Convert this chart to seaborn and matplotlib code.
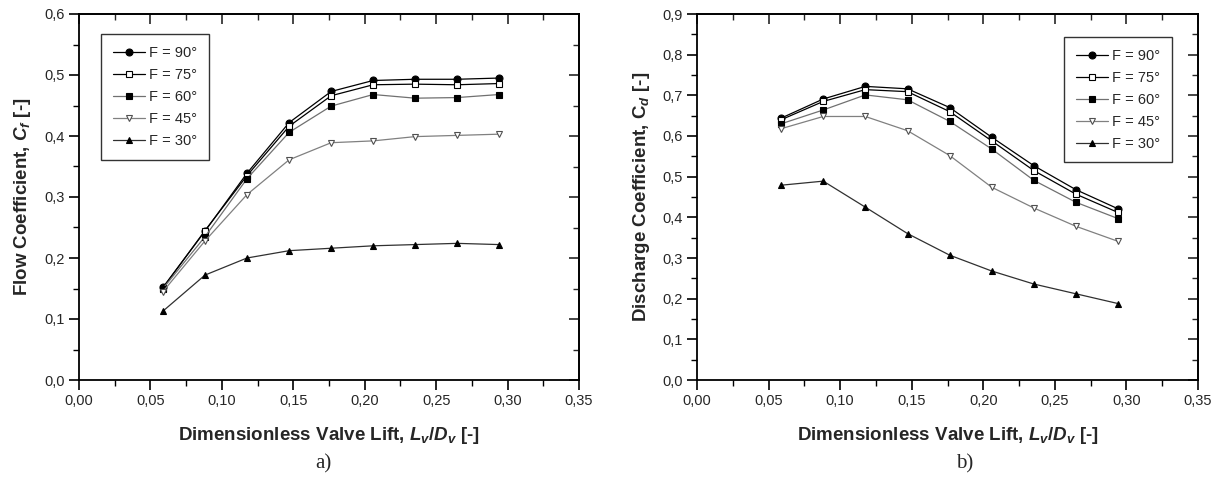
"""
Flow and discharge coefficient vs dimensionless valve lift
"""

import matplotlib
matplotlib.use('Agg')
import numpy as np
import pandas as pd
import seaborn as sns
import matplotlib.pyplot as plt
from matplotlib.ticker import MultipleLocator, FuncFormatter

# data
LIFT = [0.0588, 0.0882, 0.1176, 0.1471, 0.1765, 0.2059, 0.2353, 0.2647, 0.2941]
ANGLES = ['F = 90°', 'F = 75°', 'F = 60°', 'F = 45°', 'F = 30°']

CF_90 = [0.152, 0.244, 0.339, 0.422, 0.473, 0.491, 0.493, 0.493, 0.495]
CF_75 = [0.151, 0.245, 0.335, 0.416, 0.466, 0.484, 0.485, 0.484, 0.486]
CF_60 = [0.150, 0.235, 0.330, 0.406, 0.449, 0.468, 0.462, 0.463, 0.468]
CF_45 = [0.145, 0.228, 0.304, 0.361, 0.389, 0.392, 0.399, 0.401, 0.403]
CF_30 = [0.113, 0.172, 0.200, 0.212, 0.216, 0.220, 0.222, 0.224, 0.222]

CD_90 = [0.644, 0.691, 0.722, 0.716, 0.670, 0.597, 0.527, 0.468, 0.421]
CD_75 = [0.640, 0.685, 0.714, 0.709, 0.660, 0.588, 0.515, 0.457, 0.412]
CD_60 = [0.630, 0.664, 0.701, 0.689, 0.636, 0.568, 0.491, 0.437, 0.397]
CD_45 = [0.618, 0.648, 0.648, 0.613, 0.552, 0.474, 0.423, 0.378, 0.341]
CD_30 = [0.479, 0.489, 0.425, 0.360, 0.307, 0.268, 0.236, 0.212, 0.188]

# style per series: line colour, marker, face colour, edge colour
STYLES = [('black', 'o', 'black', 'black'),
          ('black', 's', 'white', 'black'),
          ('#707070', 's', 'black', 'black'),
          ('#808080', 'v', 'white', '#505050'),
          ('#303030', '^', 'black', 'black')]

sns.set_style('ticks')
plt.rcParams['font.family'] = ['Liberation Sans', 'DejaVu Sans']
plt.rcParams['mathtext.fontset'] = 'custom'
plt.rcParams['mathtext.it'] = 'Liberation Sans:bold:italic'
plt.rcParams['mathtext.rm'] = 'Liberation Sans:bold'
plt.rcParams['mathtext.bf'] = 'Liberation Sans:bold'

X_PIXELS, Y_PIXELS, DPI = 1212, 479, 100
fig = plt.figure(figsize=(X_PIXELS / DPI, Y_PIXELS / DPI), dpi=DPI)
ax_a = fig.add_axes([79 / 1212, 99 / 479, 500 / 1212, 366 / 479])
ax_b = fig.add_axes([697 / 1212, 99 / 479, 501 / 1212, 366 / 479])


def comma(fmt):
    return FuncFormatter(lambda v, pos: format(v, fmt).replace('.', ','))


def draw(ax, series, ymax, ylabel, legend_loc, legend_anchor):
    for name, values, (lc, mk, fc, ec) in zip(ANGLES, series, STYLES):
        frame = pd.DataFrame({'lift': LIFT, 'coef': values})
        sns.lineplot(data=frame, x='lift', y='coef', ax=ax, color=lc,
                     linewidth=0.9, marker=mk, markersize=5,
                     markerfacecolor=fc, markeredgecolor=ec,
                     markeredgewidth=0.8, label=name)
    ax.set_xlim(0, 0.35)
    ax.set_ylim(0, ymax)
    ax.xaxis.set_major_locator(MultipleLocator(0.05))
    ax.xaxis.set_minor_locator(MultipleLocator(0.025))
    ax.yaxis.set_major_locator(MultipleLocator(0.1))
    ax.yaxis.set_minor_locator(MultipleLocator(0.05))
    ax.xaxis.set_major_formatter(comma('.2f'))
    ax.yaxis.set_major_formatter(comma('.1f'))
    ax.tick_params(which='major', direction='out', length=7, width=1.2,
                   labelsize=10.5, color='black', pad=3)
    ax.tick_params(which='minor', direction='out', length=4, width=1.0,
                   color='black')
    for spine in ax.spines.values():
        spine.set_linewidth(1.3)
        spine.set_color('black')
    # mirrored ticks pointing inward on top and right
    top = ax.secondary_xaxis('top')
    top.xaxis.set_major_locator(MultipleLocator(0.05))
    top.xaxis.set_minor_locator(MultipleLocator(0.025))
    top.tick_params(which='major', direction='in', length=7, width=1.2,
                    labeltop=False)
    top.tick_params(which='minor', direction='in', length=4, width=1.0)
    right = ax.secondary_yaxis('right')
    right.yaxis.set_major_locator(MultipleLocator(0.1))
    right.yaxis.set_minor_locator(MultipleLocator(0.05))
    right.tick_params(which='major', direction='in', length=7, width=1.2,
                      labelright=False)
    right.tick_params(which='minor', direction='in', length=4, width=1.0)
    for spine in list(top.spines.values()) + list(right.spines.values()):
        spine.set_linewidth(1.3)
    ax.set_xlabel(r'Dimensionless Valve Lift, $L_v/D_v$ [-]',
                  fontsize=13.5, fontweight='bold', labelpad=12)
    ax.set_ylabel(ylabel, fontsize=13.5, fontweight='bold', labelpad=8)
    leg = ax.legend(loc=legend_loc, bbox_to_anchor=legend_anchor,
                    fontsize=10.5, frameon=True, fancybox=False,
                    edgecolor='black', handlelength=2.2, handletextpad=0.3,
                    borderpad=0.8, labelspacing=0.55)
    leg.get_frame().set_linewidth(1.0)


draw(ax_a, [CF_90, CF_75, CF_60, CF_45, CF_30], 0.6,
     r'Flow Coefficient, $C_f$ [-]', 'upper left', (0.03, 0.965))
draw(ax_b, [CD_90, CD_75, CD_60, CD_45, CD_30], 0.9,
     r'Discharge Coefficient, $\mathbf{C}_d$ [-]', 'upper right',
     (0.963, 0.957))

fig.text(323 / 1212, 1 - 464 / 479, 'a)', family='Liberation Serif',
         fontsize=15, ha='center', va='center')
fig.text(965 / 1212, 1 - 464 / 479, 'b)', family='Liberation Serif',
         fontsize=15, ha='center', va='center')

plt.savefig('out.png', dpi=DPI)
